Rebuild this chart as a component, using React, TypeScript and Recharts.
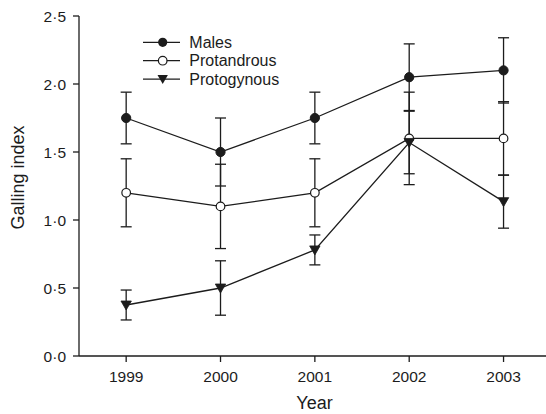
import React from 'react';
import { LineChart, Line, XAxis, YAxis, ErrorBar, Legend, Label } from 'recharts';

const years = [1999, 2000, 2001, 2002, 2003];
const males = [1.75, 1.5, 1.75, 2.05, 2.1];
const malesErr = [0.19, 0.25, 0.19, 0.245, 0.24];
const protandrous = [1.2, 1.1, 1.2, 1.6, 1.6];
const protandrousErr = [0.25, 0.31, 0.25, 0.34, 0.27];
const protogynous = [0.375, 0.5, 0.78, 1.57, 1.135];
const protogynousErr = [0.11, 0.2, 0.11, 0.23, 0.195];
const yTicks = [0, 0.5, 1, 1.5, 2, 2.5];
const seriesNames = ['Males', 'Protandrous', 'Protogynous'];

const data = years.map((year, i) => ({
  year,
  males: males[i],
  malesErr: malesErr[i],
  protandrous: protandrous[i],
  protandrousErr: protandrousErr[i],
  protogynous: protogynous[i],
  protogynousErr: protogynousErr[i],
}));

const INK = '#1c1c1c';
const FONT = '"Liberation Sans", Arial, Helvetica, sans-serif';

const filledDot = (p: any) => (
  <circle key={`m-${p.index}`} cx={p.cx} cy={p.cy} r={4.6} fill={INK} stroke={INK} strokeWidth={1} />
);
const openDot = (p: any) => (
  <circle key={`o-${p.index}`} cx={p.cx} cy={p.cy} r={4.3} fill="#fff" stroke={INK} strokeWidth={1.2} />
);
const triDot = (p: any) => (
  <polygon
    key={`t-${p.index}`}
    points={`${p.cx - 5.2},${p.cy - 4} ${p.cx + 5.2},${p.cy - 4} ${p.cx},${p.cy + 5}`}
    fill={INK}
    stroke={INK}
    strokeWidth={0.8}
  />
);

const renderLegend = () => (
  <svg width={170} height={60} style={{ display: 'block', fontFamily: FONT }}>
    {seriesNames.map((name, i) => {
      const cy = 9.3 + i * 18.4;
      const mx = 19.7;
      let marker;
      if (i === 0) marker = <circle cx={mx} cy={cy} r={4.6} fill={INK} />;
      else if (i === 1) marker = <circle cx={mx} cy={cy} r={4.3} fill="#fff" stroke={INK} strokeWidth={1.2} />;
      else
        marker = (
          <polygon points={`${mx - 5.2},${cy - 4} ${mx + 5.2},${cy - 4} ${mx},${cy + 5}`} fill={INK} />
        );
      return (
        <g key={name}>
          <line x1={0} y1={cy} x2={37} y2={cy} stroke={INK} strokeWidth={1.3} />
          {marker}
          <text x={46.3} y={cy + 5.7} fontSize={16} fill={INK}>
            {name}
          </text>
        </g>
      );
    })}
  </svg>
);

export default function App() {
  return (
    <div style={{ position: 'absolute', left: 0, top: 0, width: 546, height: 414, background: '#fff' }}>
      <LineChart
        width={546}
        height={414}
        data={data}
        margin={{ top: 16, right: 0, bottom: 0, left: 0 }}
        style={{ fontFamily: FONT }}
      >
        <XAxis
          dataKey="year"
          type="number"
          domain={[1998.5, 2003.45]}
          ticks={years}
          allowDataOverflow
          height={58}
          stroke={INK}
          strokeWidth={1.3}
          tickSize={6}
          tickMargin={9}
          tick={{ fill: INK, fontSize: 15.5, fontFamily: FONT }}
          tickLine={{ stroke: INK, strokeWidth: 1.3 }}
        >
          <Label value="Year" position="insideBottom" offset={5} dx={2} fill={INK} fontSize={18} fontFamily={FONT} />
        </XAxis>
        <YAxis
          type="number"
          domain={[0, 2.5]}
          ticks={yTicks}
          width={79}
          stroke={INK}
          strokeWidth={1.3}
          tickSize={6}
          tickMargin={7}
          tickFormatter={(v: number) => v.toFixed(1).replace('.', '\u00b7')}
          tick={{ fill: INK, fontSize: 15.5, fontFamily: FONT }}
          tickLine={{ stroke: INK, strokeWidth: 1.3 }}
        >
          <Label
            content={() => (
              <text
                x={23.5}
                y={177.5}
                transform="rotate(-90, 23.5, 177.5)"
                textAnchor="middle"
                fontSize={18}
                fill={INK}
                fontFamily={FONT}
              >
                Galling index
              </text>
            )}
          />
        </YAxis>
        <Legend
          layout="horizontal"
          verticalAlign="middle"
          align="center"
          content={renderLegend}
          wrapperStyle={{ top: 33, left: 143, width: 170, height: 60 }}
        />
        <Line
          dataKey="males"
          stroke={INK}
          strokeWidth={1.3}
          dot={filledDot}
          activeDot={false}
          isAnimationActive={false}
        >
          <ErrorBar dataKey="malesErr" direction="y" width={5.5} stroke={INK} strokeWidth={1.3} />
        </Line>
        <Line
          dataKey="protandrous"
          stroke={INK}
          strokeWidth={1.3}
          dot={openDot}
          activeDot={false}
          isAnimationActive={false}
        >
          <ErrorBar dataKey="protandrousErr" direction="y" width={5.5} stroke={INK} strokeWidth={1.3} />
        </Line>
        <Line
          dataKey="protogynous"
          stroke={INK}
          strokeWidth={1.3}
          dot={triDot}
          activeDot={false}
          isAnimationActive={false}
        >
          <ErrorBar dataKey="protogynousErr" direction="y" width={5.5} stroke={INK} strokeWidth={1.3} />
        </Line>
      </LineChart>
    </div>
  );
}
